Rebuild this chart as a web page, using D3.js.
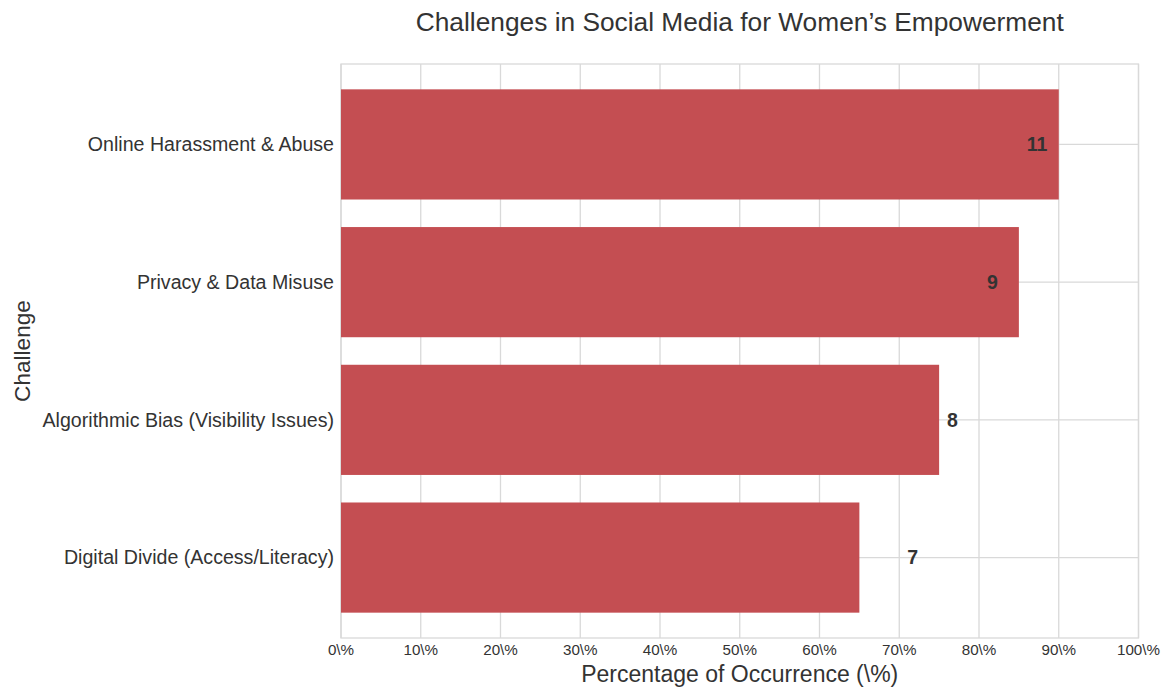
<!DOCTYPE html>
<html>
<head>
<meta charset="utf-8">
<script src="https://cdn.jsdelivr.net/npm/d3@7"></script>
<style>
  html, body { margin: 0; padding: 0; background: #fff; }
  svg { display: block; font-family: "Liberation Sans", Arial, sans-serif; }
</style>
</head>
<body>
<svg id="chart" width="1168" height="689"></svg>
<script>
// ---- data ----
const categories = [
  "Online Harassment & Abuse",
  "Privacy & Data Misuse",
  "Algorithmic Bias (Visibility Issues)",
  "Digital Divide (Access/Literacy)"
];
const percentages = [90, 85, 75, 65];
const counts = [11, 9, 8, 7];
const countLabelX = [86, 81, 76, 71];   // where the count labels sit (data units, left edge)
const xTicks = [0, 10, 20, 30, 40, 50, 60, 70, 80, 90, 100];
const xTickLabels = ["0\\%", "10\\%", "20\\%", "30\\%", "40\\%", "50\\%", "60\\%", "70\\%", "80\\%", "90\\%", "100\\%"];
const titleText = "Challenges in Social Media for Women\u2019s Empowerment";
const xTitle = "Percentage of Occurrence (\\%)";
const yTitle = "Challenge";

// ---- layout ----
const svg = d3.select("#chart");
const plot = { left: 341, right: 1138.5, top: 64, bottom: 638 };
const barColor = "#c44e52";
const gridColor = "#d9d9d9";
const textColor = "#333333";

const x = d3.scaleLinear().domain([0, 100]).range([plot.left, plot.right]);
const y = d3.scaleLinear().domain([-0.584, 3.584]).range([plot.top, plot.bottom]);
const barH = 0.8;

// grid lines
svg.append("g").selectAll("line.vg").data(xTicks).join("line")
  .attr("x1", d => x(d)).attr("x2", d => x(d))
  .attr("y1", plot.top).attr("y2", plot.bottom)
  .attr("stroke", gridColor).attr("stroke-width", 1.3);
svg.append("g").selectAll("line.hg").data(categories).join("line")
  .attr("x1", plot.left).attr("x2", plot.right)
  .attr("y1", (d, i) => y(i)).attr("y2", (d, i) => y(i))
  .attr("stroke", gridColor).attr("stroke-width", 1.3);

// frame
svg.append("rect")
  .attr("x", plot.left).attr("y", plot.top)
  .attr("width", plot.right - plot.left).attr("height", plot.bottom - plot.top)
  .attr("fill", "none").attr("stroke", gridColor).attr("stroke-width", 1.3);

// bars
svg.append("g").selectAll("rect").data(percentages).join("rect")
  .attr("x", x(0))
  .attr("y", (d, i) => y(i - barH / 2))
  .attr("width", d => x(d) - x(0))
  .attr("height", y(barH) - y(0))
  .attr("fill", barColor);

// count labels
svg.append("g").selectAll("text").data(counts).join("text")
  .attr("x", (d, i) => x(countLabelX[i]))
  .attr("y", (d, i) => y(i))
  .attr("dy", "0.35em")
  .attr("font-size", 19.5).attr("font-weight", "bold")
  .attr("fill", textColor)
  .text(d => d);

// x tick labels
svg.append("g").selectAll("text").data(xTicks).join("text")
  .attr("x", d => x(d)).attr("y", 650)
  .attr("dy", "0.35em")
  .attr("text-anchor", "middle")
  .attr("font-size", 15.2).attr("fill", textColor)
  .text((d, i) => xTickLabels[i]);

// y tick labels
svg.append("g").selectAll("text").data(categories).join("text")
  .attr("x", plot.left - 7).attr("y", (d, i) => y(i))
  .attr("dy", "0.35em")
  .attr("text-anchor", "end")
  .attr("font-size", 19.6).attr("fill", textColor)
  .text(d => d);

// title
svg.append("text")
  .attr("x", (plot.left + plot.right) / 2).attr("y", 22)
  .attr("dy", "0.35em").attr("text-anchor", "middle")
  .attr("font-size", 26.3).attr("fill", textColor)
  .text(titleText);

// axis titles
svg.append("text")
  .attr("x", (plot.left + plot.right) / 2).attr("y", 674)
  .attr("dy", "0.35em").attr("text-anchor", "middle")
  .attr("font-size", 23).attr("fill", textColor)
  .text(xTitle);

svg.append("text")
  .attr("transform", `translate(22, ${(plot.top + plot.bottom) / 2}) rotate(-90)`)
  .attr("dy", "0.35em").attr("text-anchor", "middle")
  .attr("font-size", 22.6).attr("fill", textColor)
  .text(yTitle);
</script>
</body>
</html>
